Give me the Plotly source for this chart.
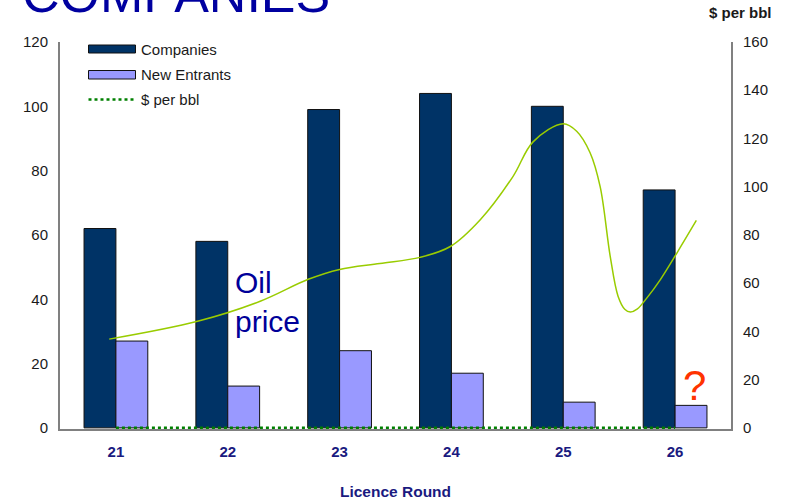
import plotly.graph_objects as go

# Licence rounds and company counts
rounds = [21, 22, 23, 24, 25, 26]
companies = [62, 58, 99, 104, 100, 74]
new_entrants = [27, 13, 24, 17, 8, 7]
per_bbl_series = [0, 0, 0, 0, 0, 0]

# Oil price curve ($ per bbl) sampled along the licence-round axis
oil_x = [20.94, 21.73, 22.29, 22.72, 23.00, 23.36, 23.72, 23.99, 24.26, 24.55,
         24.73, 25.00, 25.12, 25.24, 25.33, 25.42, 25.49, 25.55, 25.60, 25.66,
         25.75, 25.87, 26.02, 26.19]
oil_price = [36.8, 44.2, 52.5, 61.6, 65.7, 68.2, 70.7, 75.2, 86.4, 104.2,
             118.6, 126.1, 123.0, 114.1, 100.0, 71.1, 54.6, 49.2, 48.0, 49.2,
             54.0, 61.6, 72.8, 86.0]

left_ticks = [0, 20, 40, 60, 80, 100, 120]
right_ticks = [0, 20, 40, 60, 80, 100, 120, 140, 160]

FONT = "Liberation Sans, Arial, sans-serif"
NAVY = "#003366"
LILAC = "#9999FF"
GREEN_DOT = "#008000"
OIL_GREEN = "#99CC00"
AXIS_GREY = "#808080"
LABEL_BLUE = "#1a1a80"
TITLE_BLUE = "#0000A0"

W, H = 787, 500
L, R, T, B = 60, 56, 42, 71
PW, PH = W - L - R, H - T - B


def px(x):
    return (x - L) / PW


def py(y):
    return (H - B - y) / PH


fig = go.Figure()

fig.add_bar(x=rounds, y=companies, name="Companies",
            marker=dict(color=NAVY, line=dict(color="#111111", width=1)))
fig.add_bar(x=rounds, y=new_entrants, name="New Entrants",
            marker=dict(color=LILAC, line=dict(color="#111111", width=1)))
fig.add_scatter(x=rounds, y=per_bbl_series, name="$ per bbl", yaxis="y2",
                mode="lines", line=dict(color=GREEN_DOT, width=2.5, dash="3px,3px"))
fig.add_scatter(x=oil_x, y=oil_price, name="Oil price", yaxis="y2",
                mode="lines", line=dict(color=OIL_GREEN, width=1.5, shape="spline", smoothing=1.0),
                showlegend=False)

ymin_l = -0.35
fig.update_layout(
    width=W, height=H,
    margin=dict(l=L, r=R, t=T, b=B),
    paper_bgcolor="white", plot_bgcolor="white",
    barmode="group", bargap=0.43, bargroupgap=0,
    showlegend=False,
    font=dict(family=FONT, size=15, color="#1a1a1a"),
    xaxis=dict(
        range=[20.5, 26.5], tickvals=rounds, ticktext=[str(r) for r in rounds],
        showgrid=False, zeroline=False, showline=True, linecolor=AXIS_GREY, linewidth=2,
        ticks="", ticklabelstandoff=8, layer="below traces", automargin=False,
        tickfont=dict(family=FONT, size=15, color=LABEL_BLUE, weight="bold"),
        title=dict(text="<b>Licence Round</b>", standoff=28,
                   font=dict(family=FONT, size=15.5, color=LABEL_BLUE)),
    ),
    yaxis=dict(
        range=[ymin_l, 120], tickvals=left_ticks, showgrid=False, zeroline=False,
        showline=True, linecolor=AXIS_GREY, linewidth=2, ticks="", ticklabelstandoff=7,
        automargin=False,
        tickfont=dict(family=FONT, size=15, color="#1a1a1a"),
    ),
    yaxis2=dict(
        range=[ymin_l * 160 / 120, 160], tickvals=right_ticks, overlaying="y", side="right",
        showgrid=False, zeroline=False, showline=True, linecolor=AXIS_GREY, linewidth=2,
        ticks="", ticklabelstandoff=7, automargin=False,
        tickfont=dict(family=FONT, size=15, color="#1a1a1a"),
    ),
)

# Hand-drawn legend with wide swatches
legend_items = [("Companies", NAVY, 45, 53), ("New Entrants", LILAC, 70.5, 79)]
for label, color, y0, y1 in legend_items:
    fig.add_shape(type="rect", xref="paper", yref="paper",
                  x0=px(88.5), x1=px(135.5), y0=py(y1), y1=py(y0),
                  fillcolor=color, line=dict(color="#111111", width=1))
    fig.add_annotation(text=label, xref="paper", yref="paper",
                       x=px(139), y=py((y0 + y1) / 2), xanchor="left", yanchor="middle",
                       showarrow=False, font=dict(family=FONT, size=15, color="#1a1a1a"))
fig.add_shape(type="line", xref="paper", yref="paper",
              x0=px(88.5), x1=px(135.5), y0=py(99.5), y1=py(99.5),
              line=dict(color=GREEN_DOT, width=2.5, dash="3px,3px"))
fig.add_annotation(text="$ per bbl", xref="paper", yref="paper",
                   x=px(139), y=py(99.5), xanchor="left", yanchor="middle",
                   showarrow=False, font=dict(family=FONT, size=15, color="#1a1a1a"))

# Heading, right-axis unit and callouts
fig.add_annotation(text="COMPANIES", xref="paper", yref="paper",
                   x=px(20), y=py(-6), xanchor="left", yanchor="middle", showarrow=False,
                   font=dict(family=FONT, size=52, color=TITLE_BLUE))
fig.add_annotation(text="<b>$ per bbl</b>", xref="paper", yref="paper",
                   x=px(740), y=py(13), xanchor="center", yanchor="middle", showarrow=False,
                   font=dict(family=FONT, size=15, color="#1a1a1a"))
fig.add_annotation(text="Oil<br>price", xref="paper", yref="paper",
                   x=px(233), y=py(302), xanchor="left", yanchor="middle", align="left",
                   showarrow=False, font=dict(family=FONT, size=30, color="#000099"))
fig.add_annotation(text="?", xref="paper", yref="paper",
                   x=px(694.5), y=py(385.4), xanchor="center", yanchor="middle",
                   showarrow=False, font=dict(family=FONT, size=42, color="#FF3300"))

fig.write_html("out.html")
